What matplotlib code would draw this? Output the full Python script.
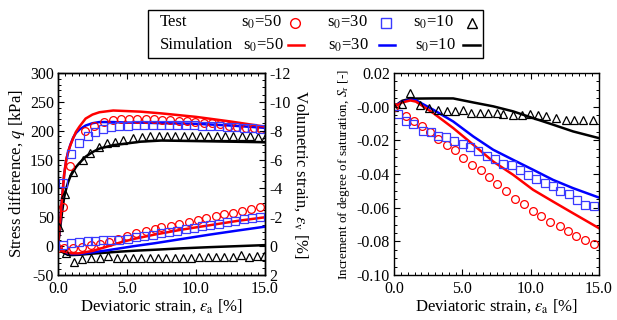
import numpy as np
import matplotlib
matplotlib.use("Agg")
import matplotlib.pyplot as plt
from matplotlib.ticker import MultipleLocator, FormatStrFormatter
from matplotlib.lines import Line2D
from matplotlib.patches import Rectangle

plt.rcParams['font.family'] = ['Liberation Serif', 'DejaVu Serif']
plt.rcParams['mathtext.fontset'] = 'stix'
plt.rcParams['axes.unicode_minus'] = False

# ---------------- data: left panel, stress difference q [kPa] ----------------
sim_ea = [0.0, 0.15, 0.3, 0.45, 0.6, 0.75, 0.9, 1.1, 1.3, 1.55, 2.0, 2.5, 3.0, 4.0, 5.0, 6.0, 7.5, 10.0, 12.5, 15.0]
sim_q50 = [0, 40, 85, 125, 150, 165, 175, 187, 198, 207, 221, 228, 232, 235, 234, 233, 230, 224, 216, 207]
sim_q30 = [0, 40, 85, 125, 150, 164, 176, 188, 196, 202, 209, 213, 215, 215, 214, 214, 213, 212, 209, 205]
sim_q10 = [0, 30, 60, 85, 100, 112, 121, 129, 137, 144, 155, 163, 169, 175, 178, 181, 183, 182, 181, 180]

test_ea50_q = [0.39, 0.87, 1.98, 2.6, 3.3, 3.95, 4.57, 5.15, 5.72, 6.35, 6.95, 7.55, 8.15, 8.75,
               9.35, 9.95, 10.55, 11.15, 11.75, 12.4, 13.0, 13.6, 14.2, 14.7]
test_q50 = [67, 139, 199, 208, 215, 218, 220, 221, 221, 221, 220, 219, 218, 217,
            216, 215, 214, 213, 212, 209, 207, 205, 204, 203]
test_ea30 = [0.34, 0.94, 1.55, 2.15, 2.7, 3.28, 3.84, 4.44, 5.05, 5.65, 6.25, 6.85, 7.45, 8.05,
             8.65, 9.25, 9.85, 10.45, 11.05, 11.65, 12.25, 12.85, 13.45, 14.05, 14.65]
test_q30 = [109, 160, 179, 190, 198, 203, 206, 208, 209, 210, 210, 210, 210, 210,
            210, 210, 210, 209, 209, 208, 207, 206, 205, 204, 203]
test_ea10_q = [0.07, 0.5, 1.1, 1.79, 2.34, 2.95, 3.53, 4.1, 4.69, 5.4, 6.1, 6.7, 7.3, 7.9, 8.5,
               9.1, 9.7, 10.3, 10.9, 11.5, 12.1, 12.7, 13.3, 13.9, 14.5, 15.0]
test_q10 = [33, 90, 129, 150, 162, 172, 178, 181, 184, 187, 189, 190, 191, 191, 191,
            191, 191, 191, 191, 191, 191, 190, 190, 190, 189, 188]

# ---------------- data: left panel, volumetric strain [%] ----------------
sim_ev_ea = [0.0, 0.3, 0.7, 1.0, 1.5, 2.5, 3.5, 4.5, 5.5, 7.0, 9.0, 11.0, 13.0, 15.0]
sim_ev50 = [0.0, 0.3, 0.45, 0.5, 0.5, 0.33, 0.05, -0.25, -0.5, -0.8, -1.15, -1.45, -1.75, -2.0]
sim_ev30 = [0.0, 0.3, 0.5, 0.55, 0.55, 0.43, 0.3, 0.15, 0.0, -0.2, -0.5, -0.8, -1.08, -1.35]
sim_ev10 = [0.0, 0.4, 0.6, 0.62, 0.6, 0.52, 0.45, 0.38, 0.32, 0.25, 0.15, 0.07, 0.0, -0.07]

test_ea50_v = [0.0, 0.45, 1.1, 1.75, 2.4, 3.05, 3.7, 4.35, 5.0, 5.65, 6.38, 7.0, 7.47, 8.19, 8.79,
               9.52, 10.12, 10.72, 11.45, 12.05, 12.66, 13.33, 13.99, 14.64]
test_ev50 = [0.1, 0.12, 0.1, 0.05, -0.05, -0.18, -0.32, -0.5, -0.68, -0.89, -1.05, -1.2, -1.31, -1.42,
             -1.54, -1.68, -1.81, -1.98, -2.12, -2.22, -2.32, -2.42, -2.56, -2.74]
test_ev30 = [-0.08, -0.22, -0.29, -0.36, -0.38, -0.4, -0.4, -0.43, -0.52, -0.61, -0.7, -0.8, -0.89, -0.98,
             -1.07, -1.19, -1.28, -1.37, -1.47, -1.56, -1.65, -1.77, -1.86, -1.95, -2.05]
test_ea10_v = [0.58, 1.16, 1.76, 2.37, 3.04, 3.65, 4.25, 4.85, 5.45, 6.05, 6.65, 7.25, 7.85, 8.45, 9.05,
               9.65, 10.25, 10.85, 11.45, 12.05, 12.65, 13.25, 13.85, 14.45, 14.95]
test_ev10 = [0.5, 1.08, 0.92, 0.85, 0.85, 0.66, 0.8, 0.8, 0.8, 0.8, 0.8, 0.8, 0.8, 0.8, 0.8,
             0.8, 0.78, 0.78, 0.78, 0.74, 0.74, 0.62, 0.74, 0.69, 0.69]

# ---------------- data: right panel, increment of degree of saturation ----------------
sim_sr_ea = [0.0, 0.6, 1.2, 1.6, 2.87, 4.33, 5.8, 7.26, 8.72, 10.18, 11.64, 13.1, 15.0]
sim_sr50 = [0.0, 0.0025, 0.0037, 0.003, -0.0038, -0.0127, -0.0226, -0.0326, -0.0405, -0.0494, -0.0564, -0.0633, -0.0722]
sim_sr30 = [0.0, 0.003, 0.0041, 0.0038, -0.0018, -0.0088, -0.0177, -0.0256, -0.0316, -0.0375, -0.0435, -0.0484, -0.054]
sim_sr10 = [0.0, 0.0035, 0.0047, 0.0048, 0.0049, 0.0049, 0.0025, 0.0002, -0.0028, -0.0068, -0.0107, -0.0147, -0.0187]

test_ea50_s = [0.0, 0.88, 1.45, 2.05, 2.65, 3.25, 3.85, 4.46, 5.06, 5.72, 6.33, 6.96, 7.57, 8.23, 8.89,
               9.52, 10.18, 10.79, 11.45, 12.13, 12.74, 13.35, 13.96, 14.6]
test_sr50 = [0.0, -0.0054, -0.0088, -0.0117, -0.015, -0.0193, -0.0226, -0.026, -0.0306, -0.0349, -0.0375,
             -0.0415, -0.0458, -0.050, -0.055, -0.0578, -0.0617, -0.0649, -0.0683, -0.0708, -0.0738,
             -0.0766, -0.0792, -0.0818]
test_ea30_s = [0.27, 0.88, 1.41, 2.09, 2.68, 3.24, 3.8, 4.41, 5.02, 5.55, 6.16, 6.77, 7.38, 7.99, 8.6,
               9.2, 9.81, 10.42, 11.03, 11.64, 12.17, 12.8, 13.39, 14.0, 14.61]
test_sr30 = [-0.0044, -0.0084, -0.0103, -0.0143, -0.0153, -0.0173, -0.0181, -0.0203, -0.0222, -0.0242,
             -0.0262, -0.0292, -0.031, -0.0341, -0.0349, -0.0375, -0.0405, -0.0429, -0.0455, -0.0474,
             -0.050, -0.052, -0.0554, -0.0583, -0.0593]
test_ea10_s = [0.0, 0.56, 1.17, 1.9, 2.58, 3.24, 3.85, 4.46, 5.06, 5.67, 6.28, 6.89, 7.5, 8.0, 8.72,
               9.33, 9.94, 10.54, 11.15, 11.88, 12.6, 13.2, 13.85, 14.56]
test_sr10 = [0.0, 0.0014, 0.0081, 0.0012, -0.0008, -0.0022, -0.0028, -0.0028, -0.0022, -0.0038, -0.0038,
             -0.0038, -0.0038, -0.0042, -0.0048, -0.0048, -0.0044, -0.0048, -0.0058, -0.0068, -0.0078,
             -0.0078, -0.0082, -0.0078]

RED = '#ff0000'
BLUE = '#0000ff'
SQ = '#3a3aff'
LW = 1.8
MS = 5.6

fig = plt.figure(figsize=(6.17, 3.20), dpi=100)
W, H = 617.0, 320.0

def ax_rect(x0, x1, ytop, ybot):
    return [x0 / W, 1 - ybot / H, (x1 - x0) / W, (ybot - ytop) / H]

ax = fig.add_axes(ax_rect(58, 265, 73, 275))
ax2 = ax.twinx()
axr = fig.add_axes(ax_rect(394, 599, 73, 275))

mk = dict(linestyle='none', markerfacecolor='none', markersize=MS, markeredgewidth=0.9)
mkt = dict(mk, markersize=MS + 0.6)

# Left panel: q
ax.plot(sim_ea, sim_q10, color='black', lw=LW)
ax.plot(sim_ea, sim_q30, color=BLUE, lw=LW)
ax.plot(sim_ea, sim_q50, color=RED, lw=LW)
ax.plot(test_ea10_q, test_q10, marker='^', markeredgecolor='black', **mkt)
ax.plot(test_ea50_q, test_q50, marker='o', markeredgecolor=RED, **mk)
ax.plot(test_ea30, test_q30, marker='s', markeredgecolor=SQ, **mk)

# Left panel: volumetric strain
ax2.plot(sim_ev_ea, sim_ev10, color='black', lw=LW)
ax2.plot(sim_ev_ea, sim_ev30, color=BLUE, lw=LW)
ax2.plot(sim_ev_ea, sim_ev50, color=RED, lw=LW)
ax2.plot(test_ea10_v, test_ev10, marker='^', markeredgecolor='black', **mkt)
ax2.plot(test_ea50_v, test_ev50, marker='o', markeredgecolor=RED, **mk)
ax2.plot(test_ea30, test_ev30, marker='s', markeredgecolor=SQ, **mk)

# Right panel
axr.plot(sim_sr_ea, sim_sr10, color='black', lw=LW)
axr.plot(sim_sr_ea, sim_sr30, color=BLUE, lw=LW)
axr.plot(sim_sr_ea, sim_sr50, color=RED, lw=LW)
axr.plot(test_ea10_s, test_sr10, marker='^', markeredgecolor='black', **mkt)
axr.plot(test_ea50_s, test_sr50, marker='o', markeredgecolor=RED, **mk)
axr.plot(test_ea30_s, test_sr30, marker='s', markeredgecolor=SQ, **mk)

TICK_FS = 11.5
LAB_FS = 12

for a in (ax, axr):
    a.set_xlim(0, 15)
    a.xaxis.set_major_locator(MultipleLocator(5))
    a.xaxis.set_minor_locator(MultipleLocator(0.5))
    a.xaxis.set_major_formatter(FormatStrFormatter('%.1f'))
    a.set_xlabel(r'Deviatoric strain, $\varepsilon_{\mathrm{a}}$ [%]', fontsize=LAB_FS, labelpad=0)

ax.set_ylim(-50, 300)
ax.yaxis.set_major_locator(MultipleLocator(50))
ax.yaxis.set_minor_locator(MultipleLocator(10))
ax.set_ylabel(r'Stress difference, $q$ [kPa]', fontsize=LAB_FS, labelpad=2)
ax.tick_params(which='both', direction='in', top=True, right=False, labelsize=TICK_FS)

ax2.set_ylim(2, -12)
ax2.yaxis.set_major_locator(MultipleLocator(2))
ax2.yaxis.set_minor_locator(MultipleLocator(0.5))
ax2.set_ylabel(r'Volumetric strain, $\varepsilon_{\mathrm{v}}$ [%]', fontsize=LAB_FS, rotation=270, labelpad=14)
ax2.tick_params(which='both', direction='in', labelsize=TICK_FS)

axr.set_ylim(-0.10, 0.02)
axr.yaxis.set_major_locator(MultipleLocator(0.02))
axr.yaxis.set_minor_locator(MultipleLocator(0.005))
axr.yaxis.set_major_formatter(FormatStrFormatter('%.2f'))
axr.set_ylabel(r'Increment of degree of saturation, $S_{\mathrm{r}}$ [-]', fontsize=9.5, labelpad=3)
axr.tick_params(which='both', direction='in', top=True, right=True, labelsize=TICK_FS)

for a in (ax, ax2, axr):
    a.tick_params(which='major', length=4, width=0.8, pad=3)
    a.tick_params(which='minor', length=2, width=0.7)
    for s in a.spines.values():
        s.set_linewidth(1.0)
for a in (ax, axr):
    a.tick_params(axis='x', which='major', pad=4.5)

# ---------------- legend box (figure pixel coordinates) ----------------
def fx(px):
    return px / W

def fy(py):
    return 1 - py / H

fig.patches.append(Rectangle((fx(148), fy(58)), fx(483) - fx(148), fy(10) - fy(58),
                             transform=fig.transFigure, fill=False, edgecolor='black', lw=1.0))
LFS = 12
r1, r2 = 22.5, 45
fig.text(fx(160), fy(r1), 'Test', fontsize=LFS, va='center', ha='left')
fig.text(fx(160), fy(r2), 'Simulation', fontsize=LFS, va='center', ha='left')
entries = [('s$_0$=50', 241, 243, 'o', RED, 295, 288, 304),
           ('s$_0$=30', 327, 328, 's', SQ, 386, 379, 395),
           ('s$_0$=10', 413, 415, '^', 'black', 472, 463, 480)]
for lab, t1, t2, m, c, mx, l0, l1 in entries:
    fig.text(fx(t1), fy(r1), lab, fontsize=LFS, va='center', ha='left')
    fig.text(fx(t2), fy(r2), lab, fontsize=LFS, va='center', ha='left')
    fig.lines.append(Line2D([fx(mx)], [fy(r1)], transform=fig.transFigure, marker=m,
                            markerfacecolor='none', markeredgecolor=c, markersize=7,
                            markeredgewidth=1.0, linestyle='none'))
    lc = BLUE if c == SQ else c
    fig.lines.append(Line2D([fx(l0), fx(l1)], [fy(r2), fy(r2)], transform=fig.transFigure,
                            color=lc, lw=LW))

fig.savefig('out.png', dpi=100)
